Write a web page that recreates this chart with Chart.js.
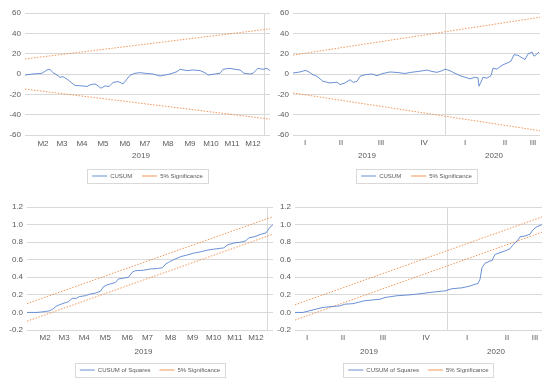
<!DOCTYPE html>
<html>
<head>
<meta charset="utf-8">
<script src="https://cdn.jsdelivr.net/npm/chart.js@4.4.1/dist/chart.umd.min.js"></script>
<style>
  body { margin: 0; background: #fff; }
  .panel { position: absolute; }
</style>
</head>
<body>
<div class="panel" style="left:0;top:0;width:275px;height:190px"><canvas id="cusum2019"></canvas></div>
<div class="panel" style="left:275px;top:0;width:275px;height:190px"><canvas id="cusum1920"></canvas></div>
<div class="panel" style="left:0;top:190px;width:275px;height:193px"><canvas id="sq2019"></canvas></div>
<div class="panel" style="left:275px;top:190px;width:275px;height:193px"><canvas id="sq1920"></canvas></div>
<script>
// x values are trading-day indexes

// 2019 sample, monthly axis
const monthLabels = ['M2', 'M3', 'M4', 'M5', 'M6', 'M7', 'M8', 'M9', 'M10', 'M11', 'M12'];
const monthDays = [18, 37, 57, 78, 100, 120, 143, 165, 186, 207, 228];
const years2019 = ['2019'];
const yearDays2019 = [116];
const yearBreak2019 = [239.5];
const lastDay2019 = 245;

// 2019-2020 sample, quarterly axis
const quarterLabels = ['I', 'II', 'III', 'IV', 'I', 'II', 'III'];
const quarterDays = [12, 48, 88, 131, 172, 212, 240];
const years1920 = ['2019', '2020'];
const yearDays1920 = [74, 201];
const yearBreak1920 = [152];
const lastDay1920 = 247;

const cusumTicks = [-60, -40, -20, 0, 20, 40, 60];
const cusumTickLabels = ['-60', '-40', '-20', '0', '20', '40', '60'];
const sqTicks = [-0.2, 0, 0.2, 0.4, 0.6, 0.8, 1.0, 1.2];
const sqTickLabels = ['-0.2', '0.0', '0.2', '0.4', '0.6', '0.8', '1.0', '1.2'];

// CUSUM, 2019
const cusum2019Days = [0, 8, 17, 22, 25, 28, 32, 35, 38, 42, 47, 50, 57, 62, 65, 70, 73, 76, 80, 84, 88, 93, 98, 102, 105, 110, 115, 120, 128, 135, 140, 145, 152, 155, 162, 168, 175, 180, 183, 190, 195, 198, 205, 210, 215, 219, 225, 228, 233, 238, 242, 245];
const cusum2019 = [-1, 0, 0.7, 4, 4.6, 1.3, -1, -3.3, -2.6, -5, -9, -11.3, -11.7, -12.3, -10.7, -9.7, -11.7, -14, -11.7, -12.3, -8.4, -7.4, -9.7, -5, -1.3, 0.7, 1.3, 0.7, 0, -2, -1, 0, 2.3, 4.6, 3.3, 4, 3.3, 1.3, -1, 0, 0.7, 4.6, 5.6, 4.6, 4, 0.7, 0, 0.7, 5.6, 4.6, 5.6, 3.3];
const cusum2019Upper = [14.8, 44.4];
const cusum2019Lower = [-14.8, -44.4];

// CUSUM, 2019-2020
const cusum1920Days = [0, 7, 12, 15, 20, 24, 30, 37, 44, 47, 52, 57, 60, 64, 67, 72, 79, 84, 89, 97, 104, 112, 117, 125, 134, 139, 144, 149, 152, 157, 162, 167, 172, 177, 182, 185, 186, 188, 190, 194, 198, 200, 204, 208, 211, 215, 218, 221, 225, 229, 232, 235, 239, 241, 244, 246];
const cusum1920 = [1, 2, 3.5, 2.6, -0.7, -2.3, -7.2, -8.8, -8.1, -10.4, -8.8, -5.6, -8.1, -7.2, -2.3, -0.7, 0, -1.7, 0.3, 2, 1.5, 0.5, 1.5, 2.5, 3.8, 2.5, 1.6, 3.2, 4.8, 3.2, 0.6, -1.6, -3.2, -4.8, -3.2, -3.8, -12, -7.9, -3.2, -4.1, -1.6, 5.7, 4.8, 7.9, 9.5, 11.1, 12.7, 19, 18.4, 15.9, 14.3, 19.7, 21.6, 17.5, 19.7, 21.6];
const cusum1920Upper = [18.6, 55.8];
const cusum1920Lower = [-18.6, -55.8];

// CUSUM of squares, 2019
const sq2019Days = [0, 10, 18, 23, 26, 29, 33, 38, 41, 45, 49, 52, 58, 63, 68, 73, 76, 79, 83, 88, 91, 96, 101, 105, 108, 116, 123, 130, 135, 138, 141, 146, 153, 160, 166, 173, 180, 186, 193, 196, 200, 206, 213, 218, 221, 226, 233, 238, 242, 245];
const sq2019 = [0, 0, 0.01, 0.02, 0.04, 0.07, 0.09, 0.11, 0.12, 0.16, 0.16, 0.18, 0.19, 0.21, 0.22, 0.24, 0.29, 0.31, 0.325, 0.34, 0.38, 0.39, 0.40, 0.46, 0.475, 0.48, 0.495, 0.50, 0.51, 0.55, 0.57, 0.60, 0.635, 0.655, 0.675, 0.69, 0.71, 0.72, 0.73, 0.735, 0.77, 0.79, 0.80, 0.815, 0.85, 0.86, 0.89, 0.905, 0.97, 1.0];
const sq2019Upper = [0.1, 1.09];
const sq2019Lower = [-0.1, 0.89];

// CUSUM of squares, 2019-2020
const sq1920Days = [0, 8, 15, 22, 28, 38, 45, 50, 58, 65, 68, 78, 85, 90, 102, 115, 123, 130, 140, 150, 157, 167, 175, 180, 183, 185, 187, 190, 195, 197, 200, 205, 210, 215, 218, 222, 225, 230, 235, 238, 241, 245, 247];
const sq1920 = [0, 0, 0.02, 0.04, 0.057, 0.068, 0.075, 0.094, 0.10, 0.12, 0.13, 0.143, 0.15, 0.17, 0.19, 0.20, 0.21, 0.22, 0.234, 0.245, 0.27, 0.28, 0.30, 0.32, 0.33, 0.377, 0.51, 0.56, 0.585, 0.59, 0.66, 0.68, 0.70, 0.725, 0.77, 0.81, 0.86, 0.87, 0.89, 0.94, 0.97, 0.99, 1.0];
const sq1920Upper = [0.087, 1.087];
const sq1920Lower = [-0.087, 0.913];

const BLUE = '#5B85D0';
const ORANGE = 'rgba(237,125,49,0.8)';
const GRID = '#d9d9d9';
const TEXT = '#595959';
const FONT = "'Liberation Sans', Arial, sans-serif";

// thin grey frame around the legend, like Excel draws it
const legendFrame = {
  id: 'legendFrame',
  afterDraw(chart) {
    const hb = chart.legend && chart.legend.legendHitBoxes;
    if (!hb || !hb.length) return;
    const left = Math.min(...hb.map(h => h.left)) - 5;
    const right = Math.max(...hb.map(h => h.left + h.width)) + 5;
    const top = hb[0].top - 4;
    const bottom = hb[0].top + hb[0].height + 4;
    const ctx = chart.ctx;
    ctx.save();
    ctx.strokeStyle = GRID;
    ctx.lineWidth = 1;
    ctx.strokeRect(Math.round(left) + 0.5, Math.round(top) + 0.5, Math.round(right - left), Math.round(bottom - top));
    ctx.restore();
  }
};

function points(xs, ys) {
  return xs.map((x, i) => ({ x: x, y: ys[i] }));
}

function drawPanel(id, o) {
  const sigStyle = {
    label: '5% Significance',
    borderColor: ORANGE,
    borderWidth: 1,
    borderDash: [1.5, 1.5],
    pointRadius: 0,
    pointStyle: 'line',
    xAxisID: 'x',
    yAxisID: 'y'
  };
  return new Chart(document.getElementById(id), {
    type: 'line',
    data: {
      datasets: [
        {
          label: o.label,
          data: points(o.days, o.values),
          borderColor: BLUE,
          borderWidth: 0.9,
          pointRadius: 0,
          pointStyle: 'line',
          xAxisID: 'x',
          yAxisID: 'y'
        },
        Object.assign({ data: points([0, o.lastDay], o.upper) }, sigStyle),
        Object.assign({ data: points([0, o.lastDay], o.lower) }, sigStyle)
      ]
    },
    options: {
      animation: false,
      responsive: true,
      maintainAspectRatio: false,
      layout: { padding: o.padding },
      plugins: {
        tooltip: { enabled: false },
        legend: {
          position: 'bottom',
          fullSize: false,
          labels: {
            usePointStyle: true,
            pointStyle: 'line',
            pointStyleWidth: 15,
            padding: o.legendPadding,
            color: TEXT,
            font: { family: FONT, size: 6 },
            filter: item => item.datasetIndex < 2
          }
        }
      },
      scales: {
        x: {
          type: 'linear',
          min: 0,
          max: o.lastDay,
          weight: 0,
          grid: { display: false, drawTicks: false },
          border: { display: false },
          afterBuildTicks: ax => { ax.ticks = o.tickDays.map(v => ({ value: v })); },
          afterFit: ax => { ax.height = o.xHeight; },
          ticks: {
            autoSkip: false,
            maxRotation: 0,
            padding: o.xPad,
            color: TEXT,
            font: { family: FONT, size: 8 },
            callback: (v, i) => o.tickLabels[i]
          }
        },
        x2: {
          type: 'linear',
          position: 'bottom',
          min: 0,
          max: o.lastDay,
          weight: 1,
          border: { display: false },
          grid: {
            drawTicks: false,
            lineWidth: 1,
            color: c => (c.index >= o.years.length ? GRID : 'rgba(0,0,0,0)')
          },
          afterBuildTicks: ax => { ax.ticks = o.yearDays.concat(o.breaks).map(v => ({ value: v })); },
          afterFit: ax => { ax.height = o.x2Height; },
          ticks: {
            autoSkip: false,
            maxRotation: 0,
            padding: o.x2Pad,
            color: TEXT,
            font: { family: FONT, size: 8 },
            callback: (v, i) => (i < o.years.length ? o.years[i] : '')
          }
        },
        y: {
          min: o.yTicks[0],
          max: o.yTicks[o.yTicks.length - 1],
          border: { display: false },
          grid: { color: GRID, drawTicks: false },
          afterBuildTicks: ax => { ax.ticks = o.yTicks.map(v => ({ value: v })); },
          afterFit: ax => { ax.width = o.yWidth; },
          ticks: {
            padding: 4,
            color: TEXT,
            font: { family: FONT, size: 8 },
            callback: (v, i) => o.yLabels[i]
          }
        }
      }
    },
    plugins: [legendFrame]
  });
}

drawPanel('cusum2019', {
  label: 'CUSUM', days: cusum2019Days, values: cusum2019,
  upper: cusum2019Upper, lower: cusum2019Lower, lastDay: lastDay2019,
  tickDays: monthDays, tickLabels: monthLabels,
  years: years2019, yearDays: yearDays2019, breaks: yearBreak2019,
  yTicks: cusumTicks, yLabels: cusumTickLabels,
  padding: { top: 13, right: 5, bottom: 1, left: 0 },
  yWidth: 25, xHeight: 14, xPad: 4, x2Height: 14, x2Pad: 2, legendPadding: 10
});

drawPanel('cusum1920', {
  label: 'CUSUM', days: cusum1920Days, values: cusum1920,
  upper: cusum1920Upper, lower: cusum1920Lower, lastDay: lastDay1920,
  tickDays: quarterDays, tickLabels: quarterLabels,
  years: years1920, yearDays: yearDays1920, breaks: yearBreak1920,
  yTicks: cusumTicks, yLabels: cusumTickLabels,
  padding: { top: 13, right: 10, bottom: 1, left: 0 },
  yWidth: 18, xHeight: 14, xPad: 3, x2Height: 14, x2Pad: 2, legendPadding: 10
});

drawPanel('sq2019', {
  label: 'CUSUM of Squares', days: sq2019Days, values: sq2019,
  upper: sq2019Upper, lower: sq2019Lower, lastDay: lastDay2019,
  tickDays: monthDays, tickLabels: monthLabels,
  years: years2019, yearDays: yearDays2019, breaks: yearBreak2019,
  yTicks: sqTicks, yLabels: sqTickLabels,
  padding: { top: 17, right: 2, bottom: 0, left: 0 },
  yWidth: 27, xHeight: 13, xPad: 3, x2Height: 15, x2Pad: 4, legendPadding: 9
});

drawPanel('sq1920', {
  label: 'CUSUM of Squares', days: sq1920Days, values: sq1920,
  upper: sq1920Upper, lower: sq1920Lower, lastDay: lastDay1920,
  tickDays: quarterDays, tickLabels: quarterLabels,
  years: years1920, yearDays: yearDays1920, breaks: yearBreak1920,
  yTicks: sqTicks, yLabels: sqTickLabels,
  padding: { top: 17, right: 8, bottom: 0, left: 0 },
  yWidth: 20, xHeight: 13, xPad: 3, x2Height: 15, x2Pad: 4, legendPadding: 9
});
</script>
</body>
</html>
